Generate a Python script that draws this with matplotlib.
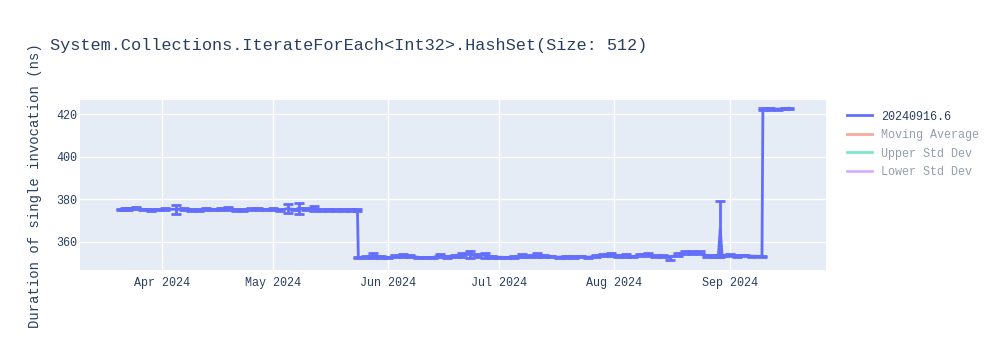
import matplotlib
matplotlib.use('Agg')
import matplotlib.pyplot as plt
import matplotlib.dates as mdates
from matplotlib.lines import Line2D
import pandas as pd

# ── data ───────────────────────────────────────────────────────────────────
run_dates = [
    '2024-03-21', '2024-03-22', '2024-03-23', '2024-03-25', '2024-03-27', '2024-03-29',
    '2024-03-31', '2024-04-02', '2024-04-05', '2024-04-07', '2024-04-09', '2024-04-11',
    '2024-04-13', '2024-04-15', '2024-04-17', '2024-04-19', '2024-04-21', '2024-04-23',
    '2024-04-25', '2024-04-27', '2024-04-29', '2024-05-01', '2024-05-03', '2024-05-05',
    '2024-05-07', '2024-05-08', '2024-05-10', '2024-05-12', '2024-05-14', '2024-05-16',
    '2024-05-18', '2024-05-20', '2024-05-22', '2024-05-23 18:00',
    '2024-05-24', '2024-05-26', '2024-05-28', '2024-05-30', '2024-06-01', '2024-06-03',
    '2024-06-05', '2024-06-07', '2024-06-09', '2024-06-11', '2024-06-13', '2024-06-15',
    '2024-06-17', '2024-06-19', '2024-06-21', '2024-06-23', '2024-06-25', '2024-06-27',
    '2024-06-29', '2024-07-01', '2024-07-03', '2024-07-05', '2024-07-07', '2024-07-09',
    '2024-07-11', '2024-07-13', '2024-07-15', '2024-07-17', '2024-07-19', '2024-07-21',
    '2024-07-23', '2024-07-25', '2024-07-27', '2024-07-29', '2024-07-31', '2024-08-02',
    '2024-08-04', '2024-08-06', '2024-08-08', '2024-08-10', '2024-08-12', '2024-08-14',
    '2024-08-16', '2024-08-18', '2024-08-20', '2024-08-22', '2024-08-24', '2024-08-26',
    '2024-08-28', '2024-08-29', '2024-08-29 12:00', '2024-08-30', '2024-09-01', '2024-09-03',
    '2024-09-05', '2024-09-07', '2024-09-09 18:00',
    '2024-09-10', '2024-09-12', '2024-09-14', '2024-09-16', '2024-09-17',
]
duration_ns = [
    375.2, 375.6, 375.4, 375.8, 375.2, 375.0,
    375.1, 375.3, 375.3, 375.4, 374.9, 375.0,
    375.5, 375.2, 375.4, 375.8, 375.1, 375.0,
    375.3, 375.5, 375.2, 375.3, 375.0, 375.6,
    375.2, 375.8, 375.4, 375.6, 375.0, 375.1,
    374.9, 375.0, 375.1, 375.0,
    352.6, 352.8, 353.4, 352.9, 352.7, 353.2,
    353.5, 353.3, 352.8, 352.6, 352.7, 353.6,
    353.0, 353.4, 353.8, 354.2, 353.6, 353.8,
    353.0, 352.8, 352.7, 352.9, 353.5, 353.3,
    353.7, 353.4, 353.2, 352.8, 353.0, 352.9,
    353.1, 352.8, 353.3, 353.8, 354.2, 353.5,
    353.6, 353.1, 353.9, 354.0, 353.2, 353.4,
    352.6, 354.2, 355.0, 355.1, 354.9, 353.5,
    353.3, 353.4, 366.1, 353.6, 353.8, 353.4,
    353.6, 353.3, 353.2,
    422.4, 422.5, 422.3, 422.6, 422.7,
]
std_err = [
    0.4, 0.5, 0.3, 0.6, 0.4, 0.3,
    0.3, 0.4, 2.1, 0.5, 0.3, 0.4,
    0.5, 0.3, 0.6, 0.7, 0.4, 0.3,
    0.4, 0.5, 0.3, 0.4, 0.3, 2.2,
    0.4, 2.6, 0.4, 1.2, 0.3, 0.4,
    0.3, 0.3, 0.4, 0.3,
    0.3, 0.4, 1.2, 0.3, 0.4, 0.5,
    0.8, 0.4, 0.3, 0.3, 0.4, 0.6,
    0.4, 0.5, 1.0, 1.6, 0.5, 1.2,
    0.4, 0.3, 0.3, 0.4, 0.8, 0.5,
    1.0, 0.4, 0.3, 0.3, 0.4, 0.3,
    0.4, 0.3, 0.5, 0.6, 0.8, 0.5,
    0.6, 0.4, 0.6, 0.7, 0.5, 0.6,
    1.0, 0.7, 0.8, 0.6, 0.7, 0.5,
    0.4, 0.3, 13.3, 0.4, 0.4, 0.3,
    0.4, 0.3, 0.3,
    0.3, 0.4, 0.3, 0.4, 0.3,
]
legend_names = ['20240916.6', 'Moving Average', 'Upper Std Dev', 'Lower Std Dev']
legend_colors = ['#636efa', '#EF553B', '#00cc96', '#ab63fa']
y_ticks = [360, 380, 400, 420]
month_ticks = ['2024-04-01', '2024-05-01', '2024-06-01', '2024-07-01', '2024-08-01', '2024-09-01']

title = 'System.Collections.IterateForEach<Int32>.HashSet(Size: 512)'
y_title = 'Duration of single invocation (ns)'

# ── plot ───────────────────────────────────────────────────────────────────
FONT = 'Liberation Mono'
TXT = '#2a3f5f'
x = pd.to_datetime(run_dates, format='mixed')

fig = plt.figure(figsize=(10, 3.5), dpi=100, facecolor='white')
ax = fig.add_axes([0.08, 0.2286, 0.746, 0.4857], facecolor='#E5ECF6')

ax.errorbar(x, duration_ns, yerr=std_err, color='#636efa', lw=2,
            elinewidth=2, capsize=3.5, capthick=2, zorder=3)

ax.set_ylim(346.8, 426.6)
ax.set_xlim(pd.Timestamp('2024-03-10'), pd.Timestamp('2024-09-27'))
ax.set_yticks(y_ticks)
ax.set_xticks(pd.to_datetime(month_ticks))
ax.xaxis.set_major_formatter(mdates.DateFormatter('%b %Y'))
ax.grid(True, color='white', lw=1)
ax.set_axisbelow(True)
for sp in ax.spines.values():
    sp.set_visible(False)
ax.tick_params(axis='x', length=0, pad=5, colors=TXT, labelsize=8.5)
ax.tick_params(axis='y', length=0, pad=2, colors=TXT, labelsize=8.5)
for lbl in ax.get_xticklabels() + ax.get_yticklabels():
    lbl.set_fontfamily(FONT)

fig.text(0.05, 0.87, title, fontsize=12.2, family=FONT, color=TXT, va='center')
fig.text(0.035, 0.47, y_title, fontsize=10, family=FONT, color=TXT,
         rotation=90, ha='center', va='center')

handles = [Line2D([0], [0], color=c, lw=2, alpha=1.0 if i == 0 else 0.5)
           for i, c in enumerate(legend_colors)]
leg = ax.legend(handles, legend_names, loc='upper left', bbox_to_anchor=(1.014, 1.0),
                frameon=False, handlelength=2.1, labelspacing=0.55,
                prop={'family': FONT, 'size': 8.5})
for i, t in enumerate(leg.get_texts()):
    t.set_color(TXT)
    if i > 0:
        t.set_alpha(0.5)

fig.savefig('out.png', dpi=100, facecolor='white')
